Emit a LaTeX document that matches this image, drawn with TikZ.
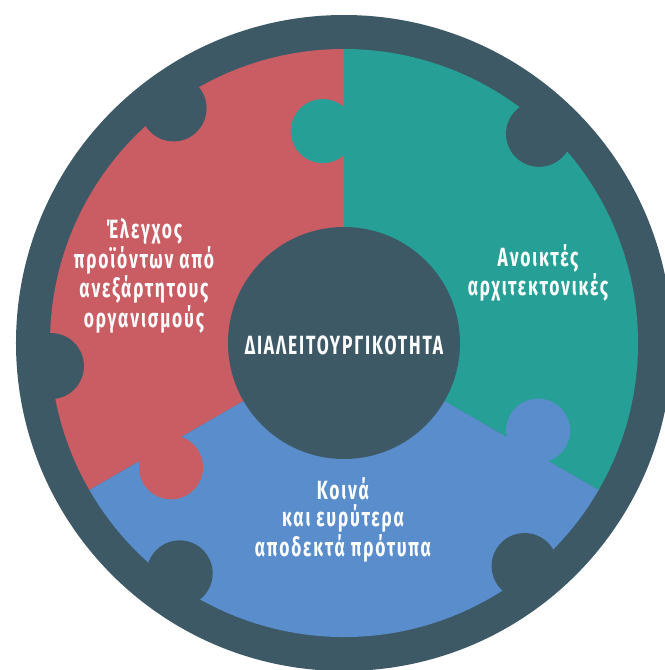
\documentclass[tikz,border=0pt]{standalone}
\usepackage{fontspec}
\setmainfont{Fira Sans}[FakeStretch=0.66,LetterSpace=7]
\usepackage{tikz}
\usetikzlibrary{positioning}
\usepackage{xcolor}
\definecolor{ringdark}{RGB}{61,89,102}
\definecolor{piecered}{RGB}{201,93,99}
\definecolor{pieceteal}{RGB}{38,160,150}
\definecolor{pieceblue}{RGB}{89,141,203}

\begin{document}
\begin{tikzpicture}[x=0.02cm,y=0.02cm,
    every node/.style={font=\fontsize{15}{15.6}\selectfont\bfseries,text=white,align=center},
    piece/.style={draw=none}]
        \useasboundingbox (-344,-327) rectangle (320,343);
        \fill[ringdark] (0,0) circle (328);
        \fill[piecered] (0,0) -- (90:294) arc (90:210:294) -- cycle;
        \fill[pieceteal] (0,0) -- (-30:294) arc (-30:90:294) -- cycle;
        \fill[pieceblue] (0,0) -- (210:294) arc (210:330:294) -- cycle;
        \fill[pieceteal] (95.7:213) circle (32);
        \fill[pieceblue] (335.7:213) circle (32);
        \fill[piecered] (215.7:213) circle (32);
        \foreach \ang/\dist in {47/286,126/290,184.5/294,234.5/283,-51/287}
          \fill[ringdark] (\ang:\dist) circle (33);
        \fill[ringdark] (0,0) circle (116);
        \node (hub) at (0,-2) {ΔΙΑΛΕΙΤΟΥΡΓΙΚΟΤΗΤΑ};
        \node (tests) at (-200,67) {Έλεγχος\\προϊόντων από\\ανεξάρτητους\\οργανισμούς};
        \node (open) at (194,70) {Ανοικτές\\αρχιτεκτονικές};
        \node (standards) at (-1,-177) {Κοινά\\και ευρύτερα\\αποδεκτά πρότυπα};
      \end{tikzpicture}
\end{document}
